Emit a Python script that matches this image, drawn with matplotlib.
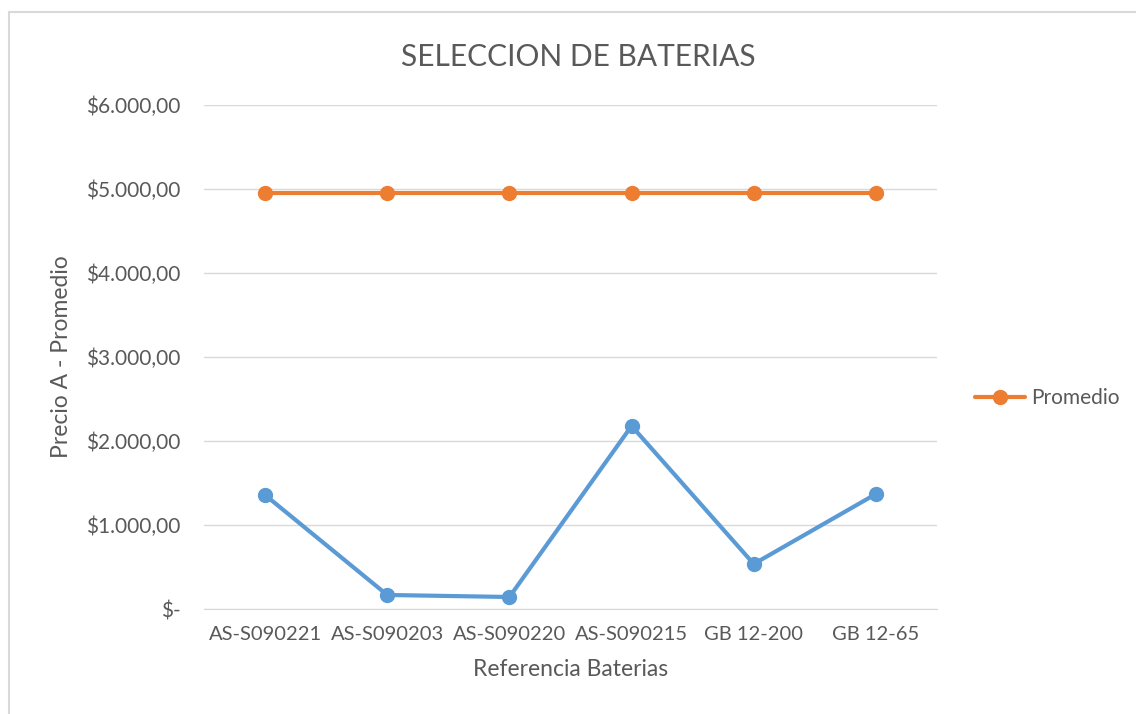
import matplotlib
matplotlib.use("Agg")
import matplotlib.pyplot as plt
from matplotlib.patches import Rectangle
from matplotlib.ticker import FuncFormatter, MultipleLocator

categorias = ["AS-S090221", "AS-S090203", "AS-S090220", "AS-S090215", "GB 12-200", "GB 12-65"]
precio_a = [1357, 167, 143, 2179, 536, 1369]
promedio = [4952, 4952, 4952, 4952, 4952, 4952]

plt.rcParams['font.family'] = ['Lato', 'DejaVu Sans']
txt = '#595959'

fig = plt.figure(figsize=(11.36, 7.14), dpi=100)
fig.patches.append(Rectangle((9/1136, -0.1), 1.2, 1 - 12/714 + 0.1, transform=fig.transFigure,
                             fill=False, edgecolor='#d9d9d9', linewidth=1.5))
ax = fig.add_axes([204/1136, 1 - 609/714, 733/1136, 504/714])

x = list(range(len(categorias)))
ax.plot(x, precio_a, color='#5b9bd5', lw=3, marker='o', ms=10, solid_capstyle='round', zorder=3)
ax.plot(x, promedio, color='#ed7d31', lw=3, marker='o', ms=10, solid_capstyle='round', zorder=3,
        label='Promedio')

ax.set_xlim(-0.5, len(categorias) - 0.5)
ax.set_ylim(0, 6000)
ax.yaxis.set_major_locator(MultipleLocator(1000))

def fmt(v, pos):
    if v == 0:
        return "$-"
    s = f"{v:,.2f}".replace(",", "X").replace(".", ",").replace("X", ".")
    return "$" + s
ax.yaxis.set_major_formatter(FuncFormatter(fmt))
ax.set_xticks(x)
ax.set_xticklabels(categorias)

ax.grid(axis='y', color='#d9d9d9', lw=1)
ax.set_axisbelow(True)
for s in ['top', 'right', 'left']:
    ax.spines[s].set_visible(False)
ax.spines['bottom'].set_color('#d9d9d9')
ax.tick_params(axis='both', length=0, colors=txt)
ax.tick_params(axis='y', pad=17, labelsize=15)
ax.tick_params(axis='x', pad=12, labelsize=14.5)

ax.set_title("SELECCION DE BATERIAS", fontsize=21.5, color=txt, pad=28, x=0.511)
ax.set_xlabel("Referencia Baterias", fontsize=16.5, color=txt, labelpad=12)
ax.set_ylabel("Precio A - Promedio", fontsize=16.5, color=txt, labelpad=10)

fig.legend(loc='center left', bbox_to_anchor=(975/1136, 1 - 398/714), frameon=False,
           fontsize=15, labelcolor=txt, handlelength=2.4, handletextpad=0.3,
           borderaxespad=0, borderpad=0)

fig.savefig("out.png", dpi=100)
